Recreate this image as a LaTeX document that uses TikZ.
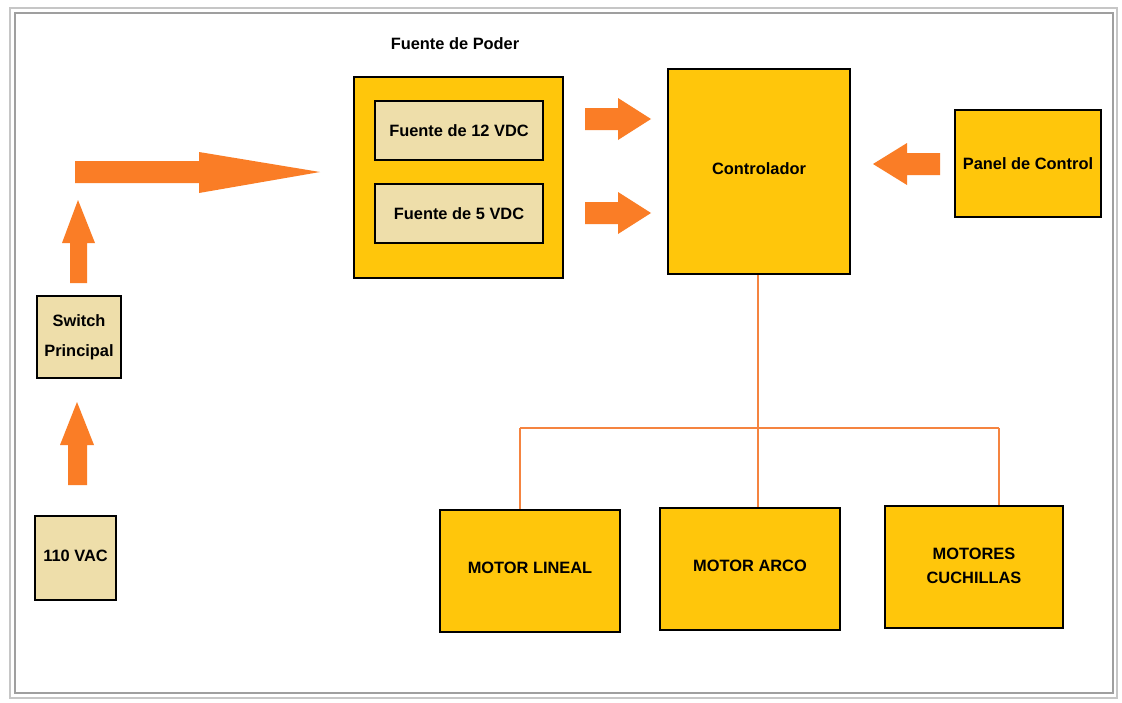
\documentclass[tikz,border=0pt]{standalone}
\usepackage{fontspec}
\setmainfont{Liberation Sans}
\begin{document}
\begin{tikzpicture}[x=0.5pt,y=-0.5pt,
  ybox/.style={draw=black,line width=1.2pt,fill=boxyellow,inner sep=0pt,align=center,font=\fontsize{8.2}{11}\selectfont\bfseries},
  bbox/.style={draw=black,line width=1.2pt,fill=boxbeige,inner sep=0pt,align=center,font=\fontsize{8.2}{11}\selectfont\bfseries},
  barrow/.style={fill=arrorange,draw=none},
  conn/.style={draw=lineorange,line width=1pt}]
\definecolor{boxyellow}{HTML}{FFC60B}
\definecolor{boxbeige}{HTML}{EEDEAA}
\definecolor{arrorange}{HTML}{FA7D26}
\definecolor{lineorange}{HTML}{F58440}
\path[use as bounding box,fill=white] (0,0) rectangle (1122,702);
\draw[gray!45,line width=0.8pt] (10,8) rectangle (1117,698);
\draw[gray!75,line width=0.8pt] (15,13) rectangle (1113,693);
% nodes
\node (fplabel) at (455,44) {\fontsize{8.2}{11}\selectfont\bfseries Fuente de Poder};
\node[ybox,minimum width=104.5pt,minimum height=100.5pt] (fp) at (458.5,177.5) {};
\node[bbox,minimum width=84pt,minimum height=29.5pt] (f12) at (459,130.5) {Fuente de 12 VDC};
\node[bbox,minimum width=84pt,minimum height=29.5pt] (f5) at (459,213.5) {Fuente de 5 VDC};
\node[ybox,minimum width=91pt,minimum height=102.5pt] (ctrl) at (759,171.5) {\raisebox{3pt}{Controlador}};
\node[ybox,minimum width=73pt,minimum height=53.5pt] (panel) at (1028,163.5) {Panel de Control};
\node[bbox,minimum width=42pt,minimum height=41pt] (sw) at (79,337) {Switch\\[4pt]Principal};
\node[bbox,minimum width=40.5pt,minimum height=42pt] (vac) at (75.5,558) {\raisebox{2pt}{110 VAC}};
\node[ybox,minimum width=90pt,minimum height=61pt] (ml) at (530,571) {\raisebox{3pt}{MOTOR LINEAL}};
\node[ybox,minimum width=90pt,minimum height=61pt] (ma) at (750,569) {\raisebox{3pt}{MOTOR ARCO}};
\node[ybox,minimum width=89pt,minimum height=61pt] (mc) at (974,567) {\raisebox{3pt}{\begin{tabular}{@{}c@{}}MOTORES\\[1pt]CUCHILLAS\end{tabular}}};
% connectors
\coordinate (bl) at (520,428);
\coordinate (br) at (999,428);
\draw[conn] (ctrl.south -| 758,0) -- (ma.north -| 758,0);
\draw[conn] (bl) -- (br);
\draw[conn] (bl) -- (bl |- ml.north);
\draw[conn] (br) -- (br |- mc.north);
% block arrows
\fill[barrow] (75,161) -- (199,161) -- (199,152) -- (320,172) -- (199,193) -- (199,183) -- (75,183) -- cycle;
\fill[barrow] (70,283) -- (70,243) -- (62,243) -- (78,200) -- (95,243) -- (87,243) -- (87,283) -- cycle;
\fill[barrow] (68,485) -- (68,445) -- (60,445) -- (77,402) -- (94,445) -- (87,445) -- (87,485) -- cycle;
\fill[barrow] (585,108) -- (618,108) -- (618,98) -- (651,119) -- (618,140) -- (618,130) -- (585,130) -- cycle;
\fill[barrow] (585,202) -- (618,202) -- (618,192) -- (651,213) -- (618,234) -- (618,224) -- (585,224) -- cycle;
\fill[barrow] (940,153) -- (907,153) -- (907,143) -- (873,164) -- (907,185) -- (907,175) -- (940,175) -- cycle;
\end{tikzpicture}
\end{document}
